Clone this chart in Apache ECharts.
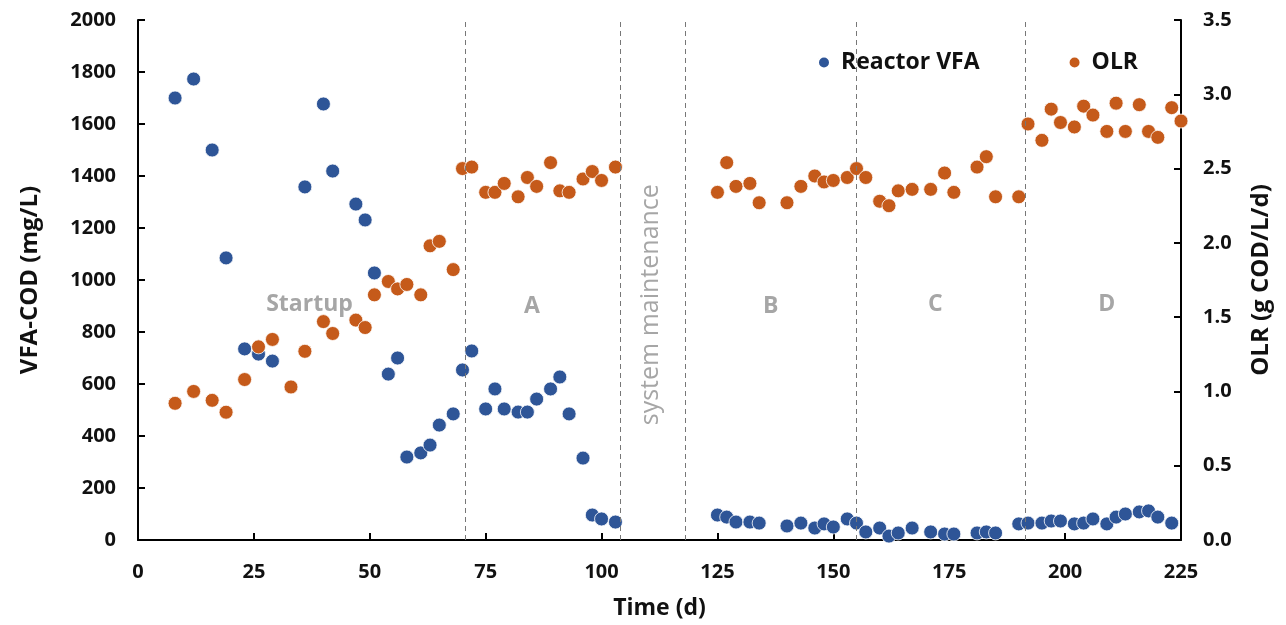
<!DOCTYPE html>
<html>
<head>
<meta charset="utf-8">
<script src="https://cdn.jsdelivr.net/npm/echarts@6/dist/echarts.min.js"></script>
<style>
  html, body { margin: 0; padding: 0; background: #fff; }
  #chart { width: 1286px; height: 625px; }
</style>
</head>
<body>
<div id="chart"></div>
<script>
// Reactor VFA (mg/L COD) by day
const vfaDays = [8, 12, 16, 19, 23, 26, 29, 36, 40, 42, 47, 49, 51, 54, 56, 58, 61, 63, 65, 68, 70, 72,
  75, 77, 79, 82, 84, 86, 89, 91, 93, 96, 98, 100, 103,
  125, 127, 129, 132, 134, 140, 143, 146, 148, 150, 153, 155, 157, 160, 162, 164, 167, 171, 174, 176,
  181, 183, 185, 190, 192, 195, 197, 199, 202, 204, 206, 209, 211, 213, 216, 218, 220, 223];
const vfaValues = [1700, 1773, 1500, 1085, 735, 715, 688, 1358, 1677, 1419, 1292, 1231, 1027, 638, 700, 319, 335, 365, 442, 485, 654, 727,
  504, 581, 504, 492, 492, 542, 581, 627, 485, 315, 96, 81, 69,
  96, 88, 69, 69, 65, 54, 65, 46, 62, 50, 81, 65, 31, 46, 15, 27, 46, 31, 23, 23,
  27, 31, 27, 62, 65, 65, 73, 73, 62, 65, 81, 62, 88, 100, 108, 112, 88, 65];

// OLR (g COD/L/d) by day
const olrDays = [8, 12, 16, 19, 23, 26, 29, 33, 36, 40, 42, 47, 49, 51, 54, 56, 58, 61, 63, 65, 68, 70, 72,
  75, 77, 79, 82, 84, 86, 89, 91, 93, 96, 98, 100, 103,
  125, 127, 129, 132, 134, 140, 143, 146, 148, 150, 153, 155, 157, 160, 162, 164, 167, 171, 174, 176,
  181, 183, 185, 190, 192, 195, 197, 199, 202, 204, 206, 209, 211, 213, 216, 218, 220, 223, 225];
const olrValues = [0.92, 1.00, 0.94, 0.86, 1.08, 1.30, 1.35, 1.03, 1.27, 1.47, 1.39, 1.48, 1.43, 1.65, 1.74, 1.69, 1.72, 1.65, 1.98, 2.01, 1.82, 2.50, 2.51,
  2.34, 2.34, 2.40, 2.31, 2.44, 2.38, 2.54, 2.35, 2.34, 2.43, 2.48, 2.42, 2.51,
  2.34, 2.54, 2.38, 2.40, 2.27, 2.27, 2.38, 2.45, 2.41, 2.42, 2.44, 2.50, 2.44, 2.28, 2.25, 2.35, 2.36, 2.36, 2.47, 2.34,
  2.51, 2.58, 2.31, 2.31, 2.80, 2.69, 2.90, 2.81, 2.78, 2.92, 2.86, 2.75, 2.94, 2.75, 2.93, 2.75, 2.71, 2.91, 2.82];

// phase boundaries (d) and phase labels
const phaseLines = [70.5, 104, 118, 155, 191.3];
const phaseLabels = [
  { name: 'Startup', day: 37, y: 905 },
  { name: 'A', day: 85, y: 900 },
  { name: 'B', day: 136.5, y: 900 },
  { name: 'C', day: 172, y: 905 },
  { name: 'D', day: 209, y: 905 },
];
const maintenanceLabel = { name: 'system maintenance', day: 110.6, y: 905 };

const font = '"Open Sans", "Noto Sans", sans-serif';
const blue = '#2E5597';
const orange = '#C55A1A';
const boldText = { fontWeight: 'bold', color: '#111', fontFamily: font };

const option = {
  animation: false,
  textStyle: { fontFamily: font },
  grid: { left: 138, right: 105, top: 20, bottom: 85 },
  legend: {
    top: 46,
    left: 812,
    itemGap: 88,
    itemWidth: 12,
    itemHeight: 12,
    textStyle: Object.assign({ fontSize: 23, padding: [0, 0, 0, 6] }, boldText),
    data: [
      { name: 'Reactor VFA', icon: 'circle' },
      { name: 'OLR', icon: 'circle' },
    ],
  },
  xAxis: {
    type: 'value',
    min: 0,
    max: 225,
    interval: 25,
    name: 'Time (d)',
    nameLocation: 'middle',
    nameGap: 57,
    nameTextStyle: Object.assign({ fontSize: 23 }, boldText),
    axisLine: { lineStyle: { color: '#000', width: 2 } },
    axisTick: { inside: true, length: 7, lineStyle: { color: '#000', width: 2 } },
    axisLabel: Object.assign({ fontSize: 20, margin: 22 }, boldText),
    splitLine: { show: false },
  },
  yAxis: [
    {
      type: 'value',
      min: 0,
      max: 2000,
      interval: 200,
      name: 'VFA-COD (mg/L)',
      nameLocation: 'middle',
      nameGap: 96,
      nameRotate: 90,
      nameTextStyle: Object.assign({ fontSize: 24 }, boldText),
      axisLine: { show: true, lineStyle: { color: '#000', width: 2 } },
      axisTick: { show: true, inside: true, length: 7, lineStyle: { color: '#000', width: 2 } },
      axisLabel: Object.assign({ fontSize: 20, margin: 22, formatter: (v) => String(v) }, boldText),
      splitLine: { show: false },
    },
    {
      type: 'value',
      min: 0,
      max: 3.5,
      interval: 0.5,
      name: 'OLR (g COD/L/d)',
      nameLocation: 'middle',
      nameGap: 68,
      nameRotate: 90,
      nameTextStyle: Object.assign({ fontSize: 24 }, boldText),
      axisLine: { show: true, lineStyle: { color: '#000', width: 2 } },
      axisTick: { show: true, inside: true, length: 7, lineStyle: { color: '#000', width: 2 } },
      axisLabel: Object.assign({ fontSize: 20, margin: 22, formatter: (v) => v.toFixed(1) }, boldText),
      splitLine: { show: false },
    },
  ],
  series: [
    {
      name: 'Reactor VFA',
      type: 'scatter',
      yAxisIndex: 0,
      symbolSize: 14,
      itemStyle: { color: blue, opacity: 1, borderColor: '#fff', borderWidth: 0.8 },
      data: vfaDays.map((d, i) => [d, vfaValues[i]]),
      markLine: {
        silent: true,
        symbol: 'none',
        label: { show: false },
        lineStyle: { color: '#777', type: [5, 4], width: 1 },
        data: phaseLines.map((x) => ({ xAxis: x })),
      },
      markPoint: {
        silent: true,
        symbol: 'circle',
        symbolSize: 0,
        data: phaseLabels.map((p) => ({
          coord: [p.day, p.y],
          label: { show: true, formatter: p.name, fontSize: 23, fontWeight: 'bold', color: '#a6a6a6', fontFamily: font },
        })).concat([{
          coord: [maintenanceLabel.day, maintenanceLabel.y],
          label: { show: true, formatter: maintenanceLabel.name, rotate: 90, fontSize: 25, color: '#a6a6a6', fontFamily: font },
        }]),
      },
      z: 3,
    },
    {
      name: 'OLR',
      type: 'scatter',
      yAxisIndex: 1,
      symbolSize: 14,
      itemStyle: { color: orange, opacity: 1, borderColor: '#fff', borderWidth: 0.8 },
      data: olrDays.map((d, i) => [d, olrValues[i]]),
      z: 3,
    },
  ],
};

const myChart = echarts.init(document.getElementById('chart'));
myChart.setOption(option);
</script>
</body>
</html>
